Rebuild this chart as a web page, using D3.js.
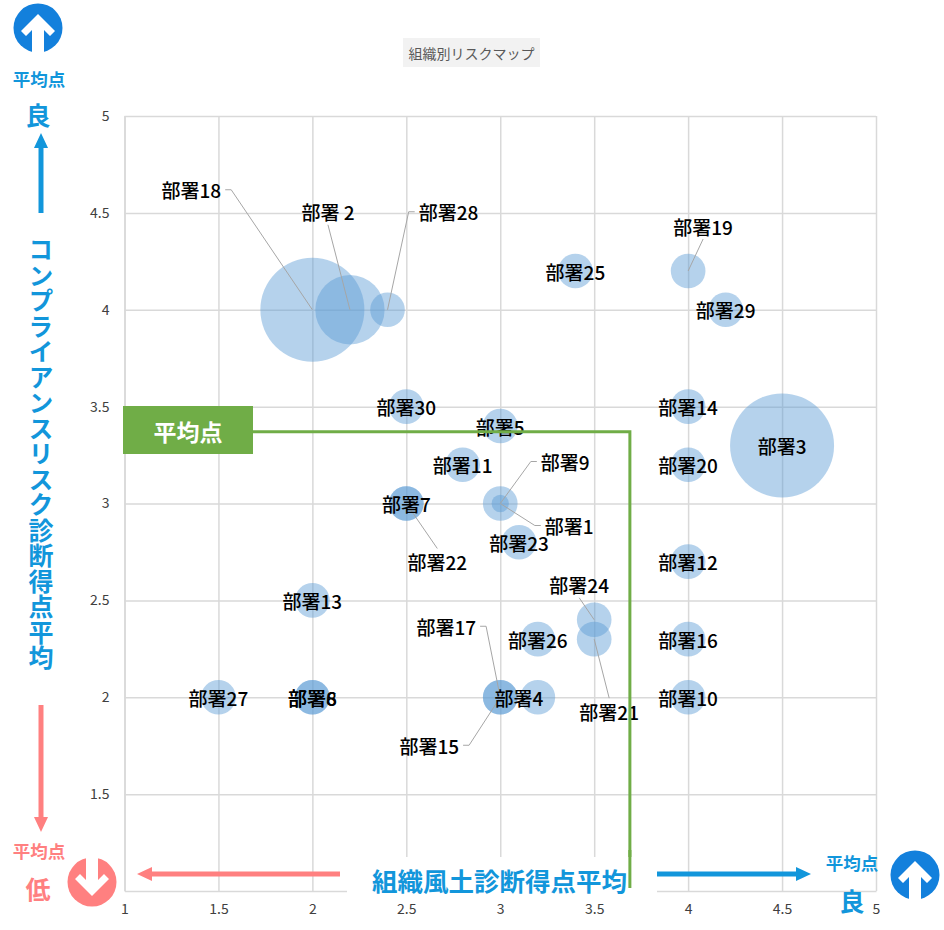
<!DOCTYPE html>
<html>
<head>
<meta charset="utf-8">
<script src="https://cdn.jsdelivr.net/npm/d3@7"></script>
<style>
  body { margin: 0; background: #fff; }
  svg text { font-family: "Noto Sans CJK JP", "Noto Sans", sans-serif; }
</style>
</head>
<body>
<svg id="chart" width="944" height="930"></svg>
<script>
// data
var names   = ["部署1","部署 2","部署3","部署4","部署5","部署6","部署7","部署8","部署9","部署10",
               "部署11","部署12","部署13","部署14","部署15","部署16","部署17","部署18","部署19","部署20",
               "部署21","部署22","部署23","部署24","部署25","部署26","部署27","部署28","部署29","部署30"];
var culture = [3, 2.2, 4.5, 3.2, 3, 2, 2.5, 2, 3, 4,
               2.8, 4, 2, 4, 3, 4, 3, 2, 4, 4,
               3.5, 2.5, 3.1, 3.5, 3.4, 3.2, 1.5, 2.4, 4.2, 2.5];
var compliance = [3, 4, 3.3, 2, 3.4, 2, 3, 2, 3, 2,
               3.2, 2.7, 2.5, 3.5, 2, 2.3, 2, 4, 4.2, 3.2,
               2.3, 3, 2.8, 2.4, 4.2, 2.3, 2, 4, 4, 3.5];
var sizes   = [0.25, 4, 9, 1, 1, 1, 1, 1, 1, 1,
               1, 1, 1, 1, 1, 1, 1, 9, 1, 1,
               1, 1, 1, 1, 1, 1, 1, 1, 1, 1];
var avgCulture = 3.69;
var avgCompliance = 3.37;
var xTicks = [1, 1.5, 2, 2.5, 3, 3.5, 4, 4.5, 5];
var yTicks = [1.5, 2, 2.5, 3, 3.5, 4, 4.5, 5];

// labels that were dragged away from their bubble (dx, dy in px, leader side)
var moved = {
  "部署18": {dx: -121, dy: -120, lead: "right"},
  "部署 2": {dx: -22, dy: -98, lead: "bottom"},
  "部署28": {dx: 61, dy: -98, lead: "left"},
  "部署19": {dx: 15, dy: -45, lead: "bottom"},
  "部署9":  {dx: 65, dy: -42, lead: "left"},
  "部署1":  {dx: 69, dy: 22, lead: "left"},
  "部署22": {dx: 31, dy: 58, lead: "top"},
  "部署24": {dx: -15, dy: -35, lead: "bottom"},
  "部署21": {dx: 15, dy: 72, lead: "top"},
  "部署17": {dx: -54, dy: -71, lead: "right"},
  "部署4":  {dx: -19, dy: 0},
  "部署15": {dx: -71, dy: 48, lead: "right"}
};

var svg = d3.select("#chart");
var blue = "#1296DB", pink = "#FF8080", green = "#70AD47";

var x = d3.scaleLinear().domain([1, 5]).range([124.5, 876]);
var y = d3.scaleLinear().domain([1, 5]).range([891, 116]);
var r = d3.scaleSqrt().domain([0, d3.max(sizes)]).range([0, 52]);

// title
svg.append("rect").attr("x", 403).attr("y", 38).attr("width", 137).attr("height", 29).attr("fill", "#F2F2F2");
svg.append("text").attr("x", 471.5).attr("y", 53).attr("text-anchor", "middle")
  .attr("dominant-baseline", "central").attr("font-size", 14).attr("fill", "#595959").text("組織別リスクマップ");

// grid via axes
var gx = svg.append("g").attr("transform", "translate(0,891)")
  .call(d3.axisBottom(x).tickValues(xTicks).tickFormat(d3.format("")).tickSize(-775).tickSizeOuter(0).tickPadding(13));
var gy = svg.append("g").attr("transform", "translate(124.5,0)")
  .call(d3.axisLeft(y).tickValues(yTicks).tickFormat(d3.format("")).tickSize(-751.5).tickSizeOuter(0).tickPadding(15));
[gx, gy].forEach(function(g) {
  g.select(".domain").attr("stroke", "#D9D9D9").attr("stroke-width", 1.5);
  g.selectAll(".tick line").attr("stroke", "#D9D9D9").attr("stroke-width", 1.5);
  g.selectAll(".tick text").attr("fill", "#404040").attr("font-size", 14)
    .style("font-family", "'Noto Sans CJK JP', sans-serif");
});

// bubbles
var pts = names.map(function(n, i) {
  return {name: n, cx: x(culture[i]), cy: y(compliance[i]), r: r(sizes[i])};
});
svg.append("g").selectAll("circle").data(pts).enter().append("circle")
  .attr("cx", function(d) { return d.cx; })
  .attr("cy", function(d) { return d.cy; })
  .attr("r", function(d) { return d.r; })
  .attr("fill", "#5B9BD5").attr("fill-opacity", 0.45);

// labels + leader lines
var lead = svg.append("g").attr("stroke", "#A6A6A6").attr("stroke-width", 1).attr("fill", "none");
var labels = svg.append("g");
pts.forEach(function(d) {
  var m = moved[d.name] || {dx: 0, dy: 0};
  var lx = d.cx + m.dx, ly = d.cy + m.dy;
  var t = labels.append("text").attr("x", lx).attr("y", ly)
    .attr("text-anchor", "middle").attr("dominant-baseline", "central")
    .attr("font-size", 19).attr("font-weight", 500).attr("fill", "#000").text(d.name);
  if (!m.lead) return;
  var w = t.node().getComputedTextLength();
  var line;
  if (m.lead == "right") {
    var ex = lx + w / 2 + 4;
    line = [[ex, ly], [ex + 6, ly], [d.cx, d.cy]];
  } else if (m.lead == "left") {
    var sx = lx - w / 2 - 4;
    line = [[sx, ly], [sx - 6, ly], [d.cx, d.cy]];
  } else if (m.lead == "bottom") {
    line = [[lx, ly + 13], [d.cx, d.cy]];
  } else {
    line = [[lx, ly - 13], [d.cx, d.cy]];
  }
  lead.append("path").attr("d", d3.line()(line));
});

// average lines
svg.append("path")
  .attr("d", d3.line()([[253, y(avgCompliance)], [x(avgCulture), y(avgCompliance)], [x(avgCulture), 888]]))
  .attr("fill", "none").attr("stroke", green).attr("stroke-width", 3);
svg.append("rect").attr("x", 123).attr("y", 406).attr("width", 130).attr("height", 48).attr("fill", green);
svg.append("text").attr("x", 188).attr("y", 431).attr("text-anchor", "middle").attr("dominant-baseline", "central")
  .attr("font-size", 23).attr("font-weight", 700).attr("fill", "#fff").text("平均点");

// x axis title box (covers the grid there)
svg.append("rect").attr("x", 347).attr("y", 857).attr("width", 310).attr("height", 40).attr("fill", "#fff");
svg.append("line").attr("x1", x(avgCulture)).attr("x2", x(avgCulture)).attr("y1", 850).attr("y2", 888)
  .attr("stroke", green).attr("stroke-width", 3);
svg.append("text").attr("x", 372).attr("y", 879).attr("dominant-baseline", "central")
  .attr("font-size", 25.5).attr("font-weight", 700).attr("fill", blue).text("組織風土診断得点平均");

// y axis title, vertical
svg.append("text").attr("x", 41).attr("y", 237)
  .style("writing-mode", "vertical-rl").style("text-orientation", "upright")
  .attr("text-anchor", "start").attr("dominant-baseline", "central")
  .attr("letter-spacing", 0.5)
  .attr("font-size", 25).attr("font-weight", 700).attr("fill", blue)
  .text("コンプライアンスリスク診断得点平均");

// arrows
function arrow(x1, y1, x2, y2, col) {
  var a = Math.atan2(y2 - y1, x2 - x1), L = 15, W = 7;
  var bx = x2 - L * Math.cos(a), by = y2 - L * Math.sin(a);
  svg.append("line").attr("x1", x1).attr("y1", y1).attr("x2", bx).attr("y2", by)
    .attr("stroke", col).attr("stroke-width", 5);
  svg.append("path").attr("fill", col).attr("d", d3.line()([
    [x2, y2],
    [bx - W * Math.sin(a), by + W * Math.cos(a)],
    [bx + W * Math.sin(a), by - W * Math.cos(a)]
  ]) + "Z");
}
arrow(41, 213, 41, 133, blue);
arrow(41, 705, 41, 832, pink);
arrow(340, 874, 137, 874, pink);
arrow(657, 874, 811, 874, blue);

// round icons
var upShape = [[0,-14],[17,3],[12,8],[6,2],[6,26],[-6,26],[-6,2],[-12,8],[-17,3]];
function icon(cx, cy, col, down) {
  var g = svg.append("g").attr("transform", "translate(" + cx + "," + cy + ")" + (down ? " scale(1,-1)" : ""));
  g.append("circle").attr("r", 24.5).attr("fill", col);
  g.append("path").attr("fill", "#fff").attr("d", d3.line()(upShape) + "Z");
}
icon(38, 28, "#1380DC", false);
icon(92, 882, pink, true);
icon(915, 875, "#1380DC", false);

// little texts near icons
function txt(tx, ty, s, size, col) {
  svg.append("text").attr("x", tx).attr("y", ty).attr("text-anchor", "middle").attr("dominant-baseline", "central")
    .attr("font-size", size).attr("font-weight", 700).attr("fill", col).text(s);
}
txt(39, 78, "平均点", 17.5, blue);
txt(38, 114, "良", 25, blue);
txt(39, 850, "平均点", 17.5, pink);
txt(38, 888, "低", 25, pink);
txt(852, 862, "平均点", 17.5, blue);
txt(852, 900, "良", 25, blue);
</script>
</body>
</html>
